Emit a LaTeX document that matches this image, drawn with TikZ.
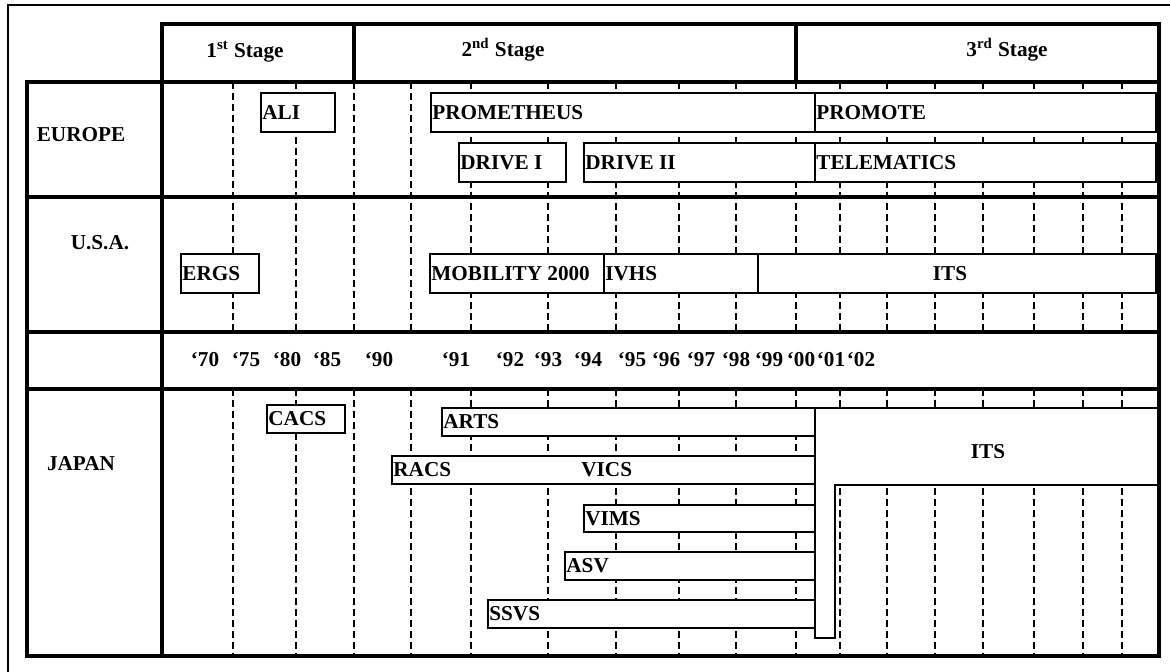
\documentclass[tikz,border=0pt]{standalone}
\usepackage{fontspec}
\setmainfont{Liberation Serif}
\usetikzlibrary{positioning}

\newcommand{\chartfont}{\fontsize{10.6}{12}\selectfont\bfseries}

\begin{document}
\begin{tikzpicture}[x=0.5pt, y=-0.5pt,
  thick_rule/.style={line width=1.6pt},
  thin_rule/.style={line width=0.6pt},
  year_line/.style={line width=0.65pt, dash pattern=on 3.5pt off 2pt},
  bar_box/.style={draw, line width=0.8pt, fill=white},
  bar_text/.style={font=\chartfont, inner xsep=0.5pt, inner ysep=0pt, anchor=west},
  plain_text/.style={font=\chartfont, inner sep=0pt}
]
  \useasboundingbox (0,0) rectangle (1170,672);

  % outer frame
  \draw[thin_rule] (8,672) -- (8,5) -- (1170,5);

  % year grid (behind the bars)
  \foreach \x in {233,296,354,411,471,548,616,679,736,796,840,887,935,983,1034,1083,1122} {
    \draw[year_line] (\x,82) -- (\x,332);
    \draw[year_line] (\x,389) -- (\x,656);
  }

  % EUROPE programmes
  \draw[bar_box] (261,93) rectangle (335,132);
  \node[bar_text] (ali) at (261,112.5) {ALI};
  \draw[bar_box] (431,93) rectangle (815,132);
  \node[bar_text] (prometheus) at (431,112.5) {PROMETHEUS};
  \draw[bar_box] (815,93) rectangle (1156,132);
  \node[bar_text] (promote) at (815,112.5) {PROMOTE};
  \draw[bar_box] (459,143) rectangle (566,182);
  \node[bar_text] (drive_one) at (459,162.5) {DRIVE I};
  \draw[bar_box] (584,143) rectangle (815,182);
  \node[bar_text] (drive_two) at (584,162.5) {DRIVE II};
  \draw[bar_box] (815,143) rectangle (1156,182);
  \node[bar_text] (telematics) at (815,162.5) {TELEMATICS};

  % U.S.A. programmes
  \draw[bar_box] (181,254) rectangle (259,293);
  \node[bar_text] (ergs) at (181,273.5) {ERGS};
  \draw[bar_box] (430,254) rectangle (604,293);
  \node[bar_text] (mobility) at (430,273.5) {MOBILITY 2000};
  \draw[bar_box] (604,254) rectangle (758,293);
  \node[bar_text] (ivhs) at (604,273.5) {IVHS};
  \draw[bar_box] (758,254) rectangle (1156,293);
  \node[plain_text] (its_us) at (950,273.5) {ITS};

  % JAPAN programmes
  \draw[bar_box] (267,405) rectangle (345,433);
  \node[bar_text] (cacs) at (267,419) {CACS};
  \draw[bar_box] (442,408) rectangle (815,436);
  \node[bar_text] (arts) at (442,422) {ARTS};
  \draw[bar_box] (392,456) rectangle (815,484);
  \node[bar_text] (racs) at (392,470) {RACS};
  \node[bar_text] (vics) at (580,470) {VICS};
  \draw[bar_box] (584,505) rectangle (815,532);
  \node[bar_text] (vims) at (584,518.5) {VIMS};
  \draw[bar_box] (565,552) rectangle (815,580);
  \node[bar_text] (asv) at (565,566) {ASV};
  \draw[bar_box] (488,600) rectangle (815,628);
  \node[bar_text] (ssvs) at (488,614) {SSVS};
  \draw[bar_box] (815,408) -- (1159,408) -- (1159,485) -- (835,485) -- (835,638) -- (815,638) -- cycle;
  \node[plain_text] (its_jp) at (988,452) {ITS};

  % table rules
  \draw[thick_rule] (162,24) rectangle (1159,82);
  \draw[thick_rule] (354,24) -- (354,82);
  \draw[thick_rule] (796,24) -- (796,82);
  \draw[thick_rule] (27,82) rectangle (1159,656);
  \draw[thick_rule] (162,82) -- (162,656);
  \draw[thick_rule] (27,197) -- (1159,197);
  \draw[thick_rule] (27,332) -- (1159,332);
  \draw[thick_rule] (27,389) -- (1159,389);

  % stage headings
  \node[plain_text] (stage_one) at (245,52) {1\textsuperscript{st} Stage};
  \node[plain_text] (stage_two) at (503,50) {2\textsuperscript{nd} Stage};
  \node[plain_text] (stage_three) at (1007,50) {3\textsuperscript{rd} Stage};

  % regions
  \node[plain_text] (europe) at (81,135) {EUROPE};
  \node[plain_text] (usa) at (100,243) {U.S.A.};
  \node[plain_text] (japan) at (81,464) {JAPAN};

  % years
  \foreach \yr/\x in {70/205,75/246,80/287,85/327,90/379,91/456,92/510,93/548,94/588,95/632,96/666,97/701,98/736,99/769,00/801,01/831,02/861}
    \node[plain_text] (year\yr) at (\x,360) {‘\yr};

\end{tikzpicture}
\end{document}
